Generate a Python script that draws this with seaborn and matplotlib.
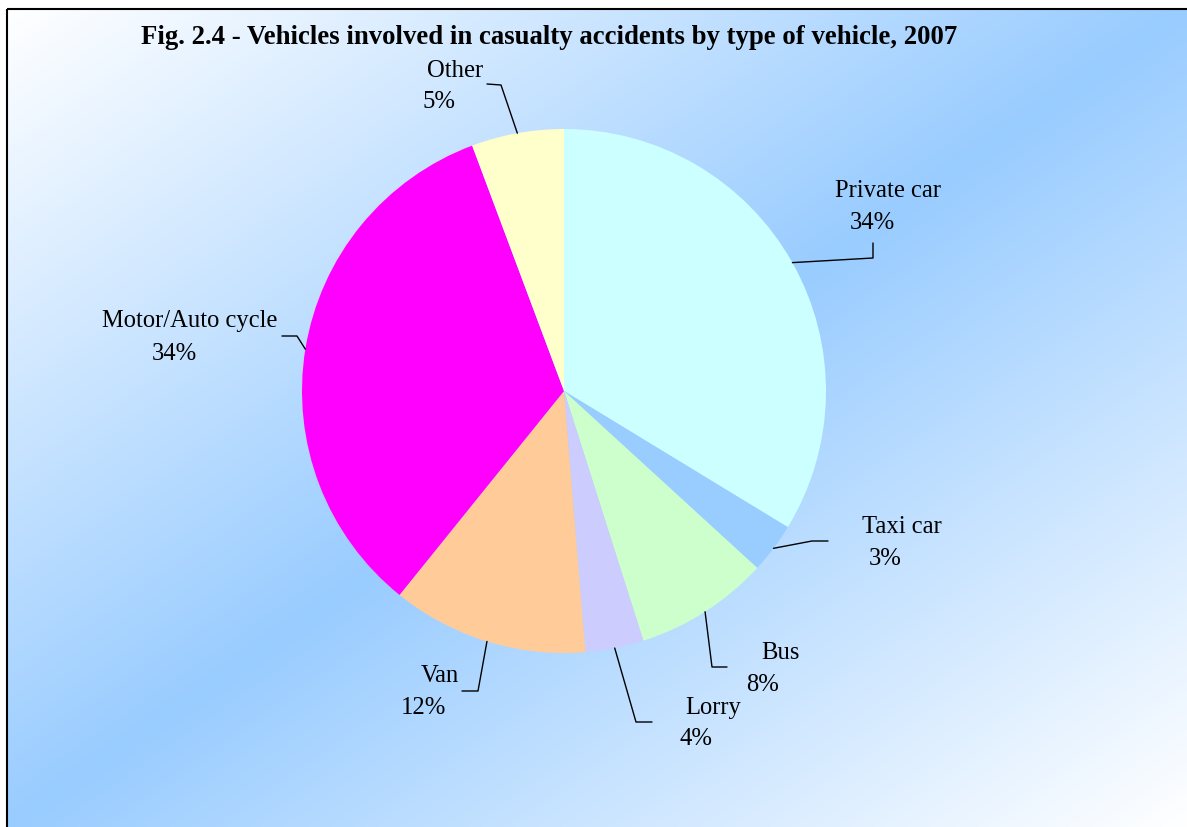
import numpy as np
import matplotlib
matplotlib.use("Agg")
import matplotlib.pyplot as plt
import seaborn as sns

# ---- data ----
categories = ["Private car", "Taxi car", "Bus", "Lorry", "Van", "Motor/Auto cycle", "Other"]
shares = [33.7, 3.1, 8.3, 3.6, 12.1, 33.5, 5.7]
pct_labels = ["34%", "3%", "8%", "4%", "12%", "34%", "5%"]
colors = ["#CCFFFF", "#99CCFF", "#CCFFCC", "#CCCCFF", "#FFCC99", "#FF00FF", "#FFFFCC"]
title = "Fig. 2.4 - Vehicles involved in casualty accidents by type of vehicle, 2007"

# ---- layout (pixel coordinates, y from top) ----
W, H = 1187, 827
CX, CY, R = 564, 391, 262
name_pos = [(888, 197), (902, 533), (781, 659), (713, 714), (440, 682), (190, 327), (455, 77)]
pct_pos = [(872, 229), (885, 565), (763, 691), (696, 745), (423, 714), (174, 360), (439, 108)]
elbows = [
    [(873, 258), (873, 243)],
    [(812, 541), (828, 541)],
    [(712, 667), (727, 667)],
    [(636, 722), (652, 722)],
    [(478, 691), (462, 691)],
    [(297, 336), (282, 336)],
    [(501, 85), (487, 84)],
]

sns.set_theme(style="white")
plt.rcParams["font.family"] = ["Liberation Serif", "DejaVu Serif"]

fig = plt.figure(figsize=(W / 100, H / 100), dpi=100)
fig.patch.set_facecolor("white")
ax = fig.add_axes([0, 0, 1, 1])

def Y(y):
    return H - y

# gradient background of chart area
x0, y0 = 7, 9
nx, ny = 400, 300
u = np.linspace(0, 1, nx)[None, :]
v = np.linspace(0, 1, ny)[:, None]
t = (u + v) / 2
b = 1 - np.abs(2 * t - 1)
blue = np.array([0x99, 0xCC, 0xFF]) / 255.0
white = np.ones(3)
img = white[None, None, :] * (1 - b[..., None]) + blue[None, None, :] * b[..., None]
ax.imshow(img, extent=[x0, W, Y(H), Y(y0)], origin="upper", aspect="auto", zorder=0,
          interpolation="bilinear")
ax.plot([x0, x0], [Y(H), Y(y0)], color="black", lw=1.5, zorder=5, solid_capstyle="butt")
ax.plot([x0, W], [Y(y0), Y(y0)], color="black", lw=1.5, zorder=5, solid_capstyle="butt")

wedges, _ = ax.pie(shares, colors=colors, startangle=90, counterclock=False,
                   center=(CX, Y(CY)), radius=R, wedgeprops=dict(linewidth=0))
for w_ in wedges:
    w_.set_zorder(2)

# labels and leader lines
for i, w_ in enumerate(wedges):
    mid = np.deg2rad((w_.theta1 + w_.theta2) / 2)
    px = CX + R * np.cos(mid)
    py = Y(CY) + R * np.sin(mid)
    xs = [px] + [p[0] for p in elbows[i]]
    ys = [py] + [Y(p[1]) for p in elbows[i]]
    ax.plot(xs, ys, color="black", lw=1.0, zorder=3)
    ax.text(name_pos[i][0], Y(name_pos[i][1]), categories[i], ha="center", va="baseline",
            fontsize=17.7, color="black", zorder=4)
    ax.text(pct_pos[i][0], Y(pct_pos[i][1]), pct_labels[i], ha="center", va="baseline",
            fontsize=17.7, color="black", zorder=4)

ax.text(549, Y(44), title, ha="center", va="baseline", fontsize=19.3, fontweight="bold",
        color="black", zorder=4)

ax.set_xlim(0, W)
ax.set_ylim(0, H)
ax.set_aspect("auto")
ax.axis("off")

fig.savefig("out.png", dpi=100)
